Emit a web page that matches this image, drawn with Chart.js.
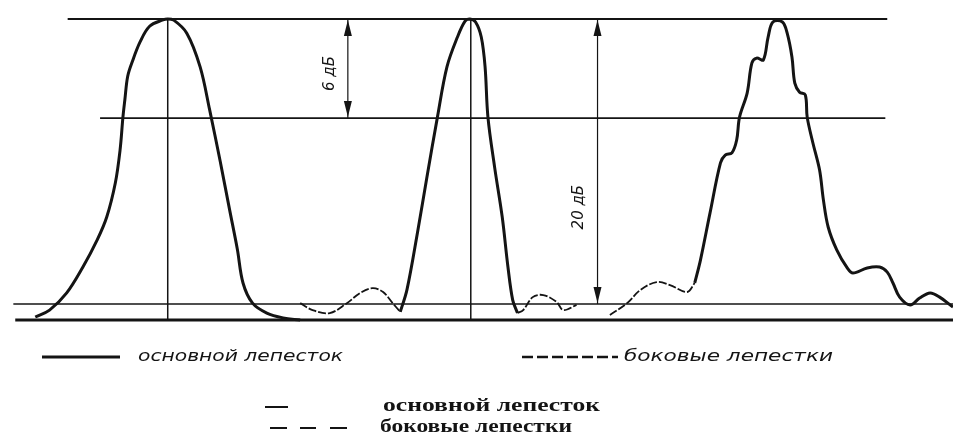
<!DOCTYPE html>
<html>
<head>
<meta charset="utf-8">
<script src="https://cdn.jsdelivr.net/npm/chart.js@4.4.1/dist/chart.umd.min.js"></script>
<style>
  html, body { margin: 0; padding: 0; background: #fff; }
  #wrap { width: 953px; height: 441px; }
</style>
</head>
<body>
<div id="wrap"><canvas id="id-lobes" width="953" height="441"></canvas></div>
<script>
// x: relative angle units (0..100), y: relative level (0 = floor line, 100 = peak)
var lobe1X = [3.7, 5.2, 7.0, 8.7, 10.2, 11.2, 12.1, 12.6, 12.9, 13.1, 13.4, 13.9, 14.7, 15.7, 17.1, 17.6, 18.2, 19.6, 21.0, 22.0, 23.1, 24.1, 24.9, 25.5, 26.5, 28.0, 29.7, 31.5];
var lobe1Y = [1.0, 3.3, 9.0, 17.6, 26.6, 34.2, 45.5, 56.5, 67.4, 73.1, 81.0, 86.0, 92.4, 97.6, 99.7, 100, 99.7, 95.3, 84.1, 69.8, 52.8, 36.5, 23.6, 12.3, 5.6, 2.3, 0.7, 0];

var lobe2X = [42.0, 42.7, 43.8, 44.8, 45.9, 46.9, 48.0, 48.8, 49.3, 49.9, 50.5, 50.9, 51.2, 51.9, 52.7, 53.3, 53.8, 54.3];
var lobe2Y = [2.7, 10.0, 28.9, 47.5, 67.4, 84.1, 94.0, 99.3, 100, 99.0, 94.0, 84.1, 67.4, 50.8, 34.2, 17.6, 6.6, 2.3];
var side2LeftX = [31.5, 32.8, 34.6, 36.4, 37.8, 39.1, 40.2, 41.2, 42.0];
var side2LeftY = [5.6, 3.3, 2.3, 5.6, 9.0, 10.6, 9.3, 5.6, 2.7];
var side2RightX = [54.3, 54.9, 55.9, 57.0, 58.4, 59.1, 60.5];
var side2RightY = [2.3, 3.3, 7.6, 8.3, 6.0, 3.3, 5.0];

var side3LeftX = [64.0, 65.8, 67.2, 68.9, 70.3, 72.1, 72.9];
var side3LeftY = [1.7, 5.6, 10.0, 12.6, 11.6, 9.3, 12.3];
var lobe3X = [72.9, 73.5, 74.5, 75.6, 76.1, 76.8, 77.3, 77.6, 78.4, 78.9, 79.4, 80.1, 80.6, 81.1, 82.1, 82.6, 83.1, 83.4, 83.9, 84.5, 84.7, 85.3, 86.0, 86.4, 86.9, 87.8, 88.9, 89.5, 91.0, 92.3, 93.1, 93.7, 94.4, 95.5, 96.5, 97.6, 98.6, 100];
var lobe3Y = [12.3, 19.9, 35.5, 52.2, 54.8, 55.5, 59.8, 67.4, 75.4, 85.4, 87.0, 86.4, 94.0, 99.0, 99.0, 95.3, 87.4, 78.7, 75.7, 74.8, 67.4, 58.8, 49.8, 39.9, 30.9, 23.3, 17.3, 15.6, 17.3, 17.6, 15.9, 12.3, 7.6, 5.0, 7.3, 9.0, 7.6, 4.3];

// reference levels: peak, -6 dB, -20 dB, floor
var levelY = [100, 67.1, 5.3, 0];
var levelFrom = [7.1, 10.5, 1.4, 1.6];
var levelTo = [93.1, 92.9, 100, 100];
var axisX = [17.6, 49.4];

// dimension arrows
var dimX = [36.5, 62.7];
var dimFrom = [100, 100];
var dimTo = [67.1, 5.3];
var dimLabels = ["6 дБ", "20 дБ"];

var legendMain = "основной лепесток";
var legendSide = "боковые лепестки";

var ink = "#141414";

function pts(xs, ys) {
  return xs.map(function(x, i) { return {x: x, y: ys[i]}; });
}

function fitText(ctx, text, x, y, w) {
  var m = ctx.measureText(text).width;
  ctx.save();
  ctx.translate(x, y);
  ctx.scale(w / m, 1);
  ctx.fillText(text, 0, 0);
  ctx.restore();
}

function seg(ctx, x1, y1, x2, y2, w) {
  ctx.lineWidth = w;
  ctx.beginPath();
  ctx.moveTo(x1, y1);
  ctx.lineTo(x2, y2);
  ctx.stroke();
}

var datasets = [];
var levelWidths = [2, 1.8, 1.5, 3];
levelY.forEach(function(v, i) {
  datasets.push({
    data: [{x: levelFrom[i], y: v}, {x: levelTo[i], y: v}],
    borderColor: ink, borderWidth: levelWidths[i], tension: 0
  });
});
axisX.forEach(function(v) {
  datasets.push({
    data: [{x: v, y: 0}, {x: v, y: 100}],
    borderColor: ink, borderWidth: 1.5, tension: 0
  });
});

var mainStyle = {borderColor: ink, borderWidth: 3, tension: 0.35};
var sideStyle = {borderColor: ink, borderWidth: 1.8, borderDash: [8, 2], tension: 0.35};

datasets.push(Object.assign({data: pts(lobe1X, lobe1Y)}, mainStyle));
datasets.push(Object.assign({data: pts(lobe2X, lobe2Y)}, mainStyle));
datasets.push(Object.assign({data: pts(side2LeftX, side2LeftY)}, sideStyle));
datasets.push(Object.assign({data: pts(side2RightX, side2RightY)}, sideStyle));
datasets.push(Object.assign({data: pts(side3LeftX, side3LeftY)}, sideStyle));
datasets.push(Object.assign({data: pts(lobe3X, lobe3Y)}, mainStyle));

// arrows, dimension labels and the two legend blocks
var drawingNotes = {
  id: "drawingNotes",
  afterDatasetsDraw: function(chart) {
    var ctx = chart.ctx;
    var xs = chart.scales.x, ys = chart.scales.y;
    ctx.save();
    ctx.strokeStyle = ink;
    ctx.fillStyle = ink;

    var labelPos = [0.55, 0.66];
    dimX.forEach(function(v, i) {
      var px = xs.getPixelForValue(v);
      var top = ys.getPixelForValue(dimFrom[i]);
      var bot = ys.getPixelForValue(dimTo[i]);
      seg(ctx, px, top, px, bot, 1.2);
      ctx.beginPath();
      ctx.moveTo(px, top + 1); ctx.lineTo(px - 4, top + 17); ctx.lineTo(px + 4, top + 17);
      ctx.closePath(); ctx.fill();
      ctx.beginPath();
      ctx.moveTo(px, bot - 1); ctx.lineTo(px - 4, bot - 17); ctx.lineTo(px + 4, bot - 17);
      ctx.closePath(); ctx.fill();

      ctx.save();
      ctx.translate(px - 18, top + (bot - top) * labelPos[i]);
      ctx.rotate(-Math.PI / 2);
      ctx.font = "italic 15px 'DejaVu Sans'";
      ctx.textAlign = "center";
      ctx.textBaseline = "middle";
      ctx.fillText(dimLabels[i], 0, 0);
      ctx.restore();
    });

    // hand-written legend
    ctx.textBaseline = "middle";
    ctx.textAlign = "left";
    ctx.font = "italic 16px 'DejaVu Sans'";
    seg(ctx, 42, 357, 120, 357, 3);
    fitText(ctx, legendMain, 138, 357, 205);
    ctx.setLineDash([11, 4]);
    seg(ctx, 522, 357, 618, 357, 2.5);
    ctx.setLineDash([]);
    fitText(ctx, legendSide, 624, 357, 209);

    // printed legend
    ctx.font = "bold 19px 'Liberation Serif'";
    seg(ctx, 265, 407, 288, 407, 2);
    fitText(ctx, legendMain, 383, 406, 217);
    seg(ctx, 270, 428, 287, 428, 2);
    seg(ctx, 300, 428, 316, 428, 2);
    seg(ctx, 330, 428, 347, 428, 2);
    fitText(ctx, legendSide, 380, 427, 192);
    ctx.restore();
  }
};

new Chart("id-lobes", {
  type: "scatter",
  data: {datasets: datasets},
  options: {
    responsive: false,
    animation: false,
    devicePixelRatio: 1,
    layout: {padding: {top: 19, bottom: 121, left: 0, right: 0}},
    datasets: {scatter: {showLine: true, pointRadius: 0, clip: false}},
    scales: {
      x: {type: "linear", min: 0, max: 100, display: false},
      y: {min: 0, max: 100, display: false}
    },
    plugins: {legend: {display: false}, tooltip: {enabled: false}}
  },
  plugins: [drawingNotes]
});
</script>
</body>
</html>
